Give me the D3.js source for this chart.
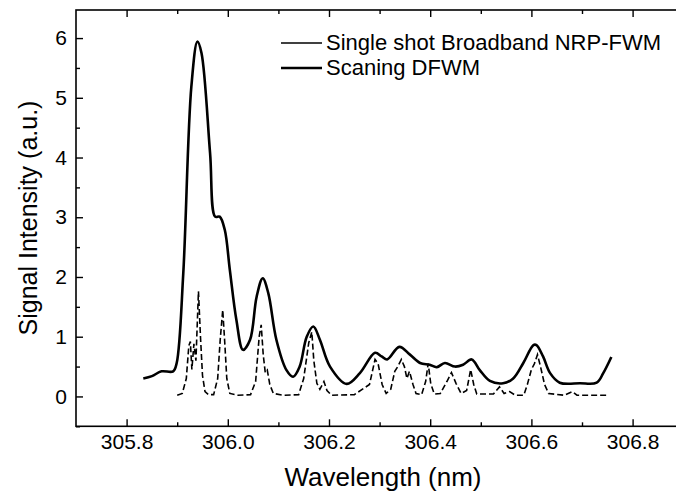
<!DOCTYPE html>
<html>
<head>
<meta charset="utf-8">
<script src="https://cdn.jsdelivr.net/npm/d3@7"></script>
<style>
  body { margin: 0; background: #fff; }
  svg { display: block; font-family: "Liberation Sans", Arial, sans-serif; }
</style>
</head>
<body>
<svg class="chart"></svg>
<script>
// Scaning DFWM (solid)
var scanWl = [305.833, 305.850, 305.869, 305.892, 305.899, 305.912, 305.928, 305.940, 305.948, 305.965,
              305.975, 305.984, 305.994, 306.004, 306.017, 306.030, 306.044, 306.057, 306.069, 306.080,
              306.096, 306.116, 306.129, 306.142, 306.156, 306.169, 306.182, 306.202, 306.235, 306.261,
              306.291, 306.304, 306.315, 306.339, 306.360, 306.380, 306.399, 306.413, 306.429, 306.449,
              306.465, 306.482, 306.498, 306.518, 306.544, 306.564, 306.584, 306.604, 306.610, 306.623,
              306.637, 306.656, 306.696, 306.729, 306.742, 306.758];
var scanVal = [0.30, 0.34, 0.42, 0.42, 0.56, 2.06, 5.19, 5.94, 5.75, 4.07,
               3.01, 3.01, 2.79, 2.12, 1.28, 0.78, 0.95, 1.67, 1.98, 1.73,
               0.95, 0.44, 0.33, 0.50, 1.00, 1.17, 0.95, 0.50, 0.21, 0.39,
               0.73, 0.67, 0.62, 0.83, 0.70, 0.56, 0.53, 0.49, 0.56, 0.50,
               0.53, 0.62, 0.44, 0.26, 0.22, 0.30, 0.56, 0.86, 0.86, 0.67,
               0.39, 0.23, 0.22, 0.23, 0.39, 0.66];

// Single shot Broadband NRP-FWM (dashed)
var shotWl = [305.900, 305.910, 305.918, 305.923, 305.926, 305.929, 305.933, 305.937, 305.942, 305.946,
              305.950, 305.955, 305.962, 305.972, 305.980, 305.985, 305.990, 305.994, 305.998, 306.004,
              306.020, 306.045, 306.055, 306.062, 306.066, 306.070, 306.074, 306.078, 306.083, 306.090,
              306.110, 306.140, 306.150, 306.160, 306.166, 306.170, 306.176, 306.182, 306.190, 306.196,
              306.205, 306.250, 306.280, 306.291, 306.297, 306.305, 306.313, 306.322, 306.330, 306.336,
              306.343, 306.349, 306.354, 306.359, 306.366, 306.372, 306.383, 306.391, 306.396, 306.401,
              306.408, 306.420, 306.433, 306.442, 306.451, 306.461, 306.472, 306.480, 306.486, 306.492,
              306.525, 306.537, 306.546, 306.557, 306.568, 306.585, 306.592, 306.600, 306.606, 306.612,
              306.618, 306.626, 306.634, 306.665, 306.681, 306.690, 306.750];
var shotVal = [0.02, 0.05, 0.30, 0.85, 0.92, 0.45, 0.88, 0.60, 1.76, 1.00,
               0.35, 0.08, 0.03, 0.03, 0.30, 0.95, 1.45, 0.90, 0.30, 0.05,
               0.02, 0.03, 0.25, 1.00, 1.20, 0.70, 0.40, 0.44, 0.20, 0.05,
               0.02, 0.03, 0.30, 0.90, 1.08, 0.60, 0.22, 0.12, 0.25, 0.10,
               0.02, 0.03, 0.20, 0.62, 0.55, 0.20, 0.05, 0.12, 0.42, 0.50,
               0.62, 0.50, 0.30, 0.42, 0.20, 0.05, 0.03, 0.25, 0.55, 0.22,
               0.04, 0.05, 0.25, 0.40, 0.22, 0.05, 0.10, 0.45, 0.20, 0.04,
               0.04, 0.16, 0.05, 0.08, 0.02, 0.02, 0.20, 0.45, 0.55, 0.70,
               0.50, 0.20, 0.05, 0.02, 0.08, 0.02, 0.02];

var xMajor = [305.8, 306.0, 306.2, 306.4, 306.6, 306.8];
var xMinor = [305.9, 306.1, 306.3, 306.5, 306.7];
var yMajor = [0, 1, 2, 3, 4, 5, 6];
var yMinor = [-0.5, 0.5, 1.5, 2.5, 3.5, 4.5, 5.5];
var legendLabels = ["Single shot Broadband NRP-FWM", "Scaning DFWM"];

var width = 676, height = 495;

var svg = d3.select(".chart").attr("width", width).attr("height", height);

var x = d3.scaleLinear().domain([305.7, 306.9]).range([76, 683.2]);
var y = d3.scaleLinear().domain([-0.5, 6.47]).range([426.3, 10]);

var x0 = x.range()[0], x1 = x.range()[1];
var y0 = y.range()[0], y1 = y.range()[1];

// frame
svg.append("rect")
    .attr("x", x0).attr("y", y1)
    .attr("width", x1 - x0).attr("height", y0 - y1)
    .attr("fill", "none").attr("stroke", "#000").attr("stroke-width", 1.6);

function styleAxis(g, fs) {
    g.select(".domain").remove();
    g.selectAll("line").attr("stroke", "#000").attr("stroke-width", 1.4);
    g.selectAll("text").attr("fill", "#000").style("font-size", fs + "px")
        .attr("font-family", "'Liberation Sans', Arial, sans-serif");
}

// bottom axis, ticks inward
svg.append("g").attr("transform", "translate(0," + y0 + ")")
    .call(d3.axisBottom(x).tickValues(xMajor).tickSize(-7).tickPadding(8)
        .tickFormat(d3.format(".1f")))
    .call(styleAxis, 21);
svg.append("g").attr("transform", "translate(0," + y0 + ")")
    .call(d3.axisBottom(x).tickValues(xMinor).tickSize(-4).tickFormat(""))
    .call(styleAxis, 21);

// top axis
svg.append("g").attr("transform", "translate(0," + y1 + ")")
    .call(d3.axisTop(x).tickValues(xMajor).tickSize(-7).tickFormat(""))
    .call(styleAxis, 21);
svg.append("g").attr("transform", "translate(0," + y1 + ")")
    .call(d3.axisTop(x).tickValues(xMinor).tickSize(-4).tickFormat(""))
    .call(styleAxis, 21);

// left axis
svg.append("g").attr("transform", "translate(" + x0 + ",0)")
    .call(d3.axisLeft(y).tickValues(yMajor).tickSize(-7).tickPadding(9)
        .tickFormat(d3.format("d")))
    .call(styleAxis, 21);
svg.append("g").attr("transform", "translate(" + x0 + ",0)")
    .call(d3.axisLeft(y).tickValues(yMinor).tickSize(-4).tickFormat(""))
    .call(styleAxis, 21);

// axis titles
svg.append("text")
    .attr("x", 383).attr("y", 486)
    .attr("text-anchor", "middle")
    .style("font-size", "26px")
    .text("Wavelength (nm)");

svg.append("text")
    .attr("transform", "translate(37,218) rotate(-90)")
    .attr("text-anchor", "middle")
    .style("font-size", "25px")
    .text("Signal Intensity (a.u.)");

// curves
var scanData = scanWl.map(function(d, i) { return [d, scanVal[i]]; });
var shotData = shotWl.map(function(d, i) { return [d, shotVal[i]]; });

var line = d3.line()
    .x(function(d) { return x(d[0]); })
    .y(function(d) { return y(d[1]); });

svg.append("path")
    .datum(shotData)
    .attr("d", line.curve(d3.curveLinear))
    .attr("fill", "none")
    .attr("stroke", "#000")
    .attr("stroke-width", 1.6)
    .attr("stroke-dasharray", "6,3");

svg.append("path")
    .datum(scanData)
    .attr("d", line.curve(d3.curveCatmullRom.alpha(0.5)))
    .attr("fill", "none")
    .attr("stroke", "#000")
    .attr("stroke-width", 2.6)
    .attr("stroke-linejoin", "round");

// legend
var legend = svg.append("g").selectAll("g")
    .data(legendLabels)
    .enter().append("g")
    .attr("transform", function(d, i) { return "translate(281," + (43 + i * 25) + ")"; });

legend.append("line")
    .attr("x1", 0).attr("x2", 41)
    .attr("stroke", "#000")
    .attr("stroke-width", function(d, i) { return i === 0 ? 1.4 : 2.6; });

legend.append("text")
    .attr("x", 45).attr("y", 7)
    .style("font-size", "22px")
    .text(function(d) { return d; });
</script>
</body>
</html>
